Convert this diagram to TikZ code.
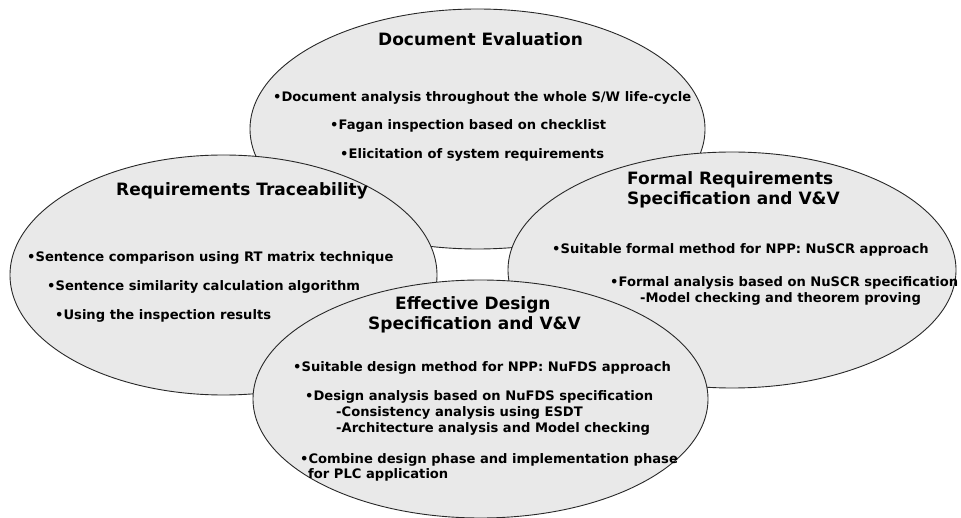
\documentclass[tikz,border=0pt]{standalone}
\usepackage{fontspec}
\setmainfont{DejaVu Sans}
\usetikzlibrary{shapes.geometric}
\definecolor{blobfill}{RGB}{233,233,233}
\definecolor{blobline}{RGB}{40,40,40}
\tikzset{
  blob/.style={ellipse, draw=blobline, fill=blobfill, line width=0.9pt, inner sep=0pt},
  ttl/.style={anchor=base west, inner sep=0pt, font=\fontsize{17}{20}\selectfont\bfseries},
  itm/.style={anchor=base west, inner sep=0pt, font=\fontsize{13.1}{15}\selectfont\bfseries},
}
\begin{document}
\begin{tikzpicture}[x=1pt,y=-1pt]
\useasboundingbox (0,0) rectangle (961,518);
% ellipses
\node[blob, minimum width=455, minimum height=240] (doc) at (477.5,129) {};
\node[blob, minimum width=427, minimum height=240] (req) at (223.5,275) {};
\node[blob, minimum width=448, minimum height=236] (frm) at (732,270) {};
\node[blob, minimum width=455, minimum height=238] (dsg) at (480.5,399) {};
% Document Evaluation
\node[ttl] (docT) at (378,46) {Document Evaluation};
\node[itm] (doc1) at (273,102) {•Document analysis throughout the whole S/W life-cycle};
\node[itm] (doc2) at (330,130) {•Fagan inspection based on checklist};
\node[itm] (doc3) at (340,159) {•Elicitation of system requirements};
% Requirements Traceability
\node[ttl] (reqT) at (116,196) {Requirements Traceability};
\node[itm] (req1) at (27,262) {•Sentence comparison using RT matrix technique};
\node[itm] (req2) at (47,291) {•Sentence similarity calculation algorithm};
\node[itm] (req3) at (55,320) {•Using the inspection results};
% Formal Requirements
\node[ttl] (frmT1) at (627,185) {Formal Requirements};
\node[ttl] (frmT2) at (627,205) {Specification and V\&V};
\node[itm] (frm1) at (552,254) {•Suitable formal method for NPP: NuSCR approach};
\node[itm] (frm2) at (610,287) {•Formal analysis based on NuSCR specification};
\node[itm] (frm3) at (640,303) {-Model checking and theorem proving};
% Effective Design
\node[ttl] (dsgT1) at (395,310) {Effective Design};
\node[ttl] (dsgT2) at (368,330) {Specification and V\&V};
\node[itm] (dsg1) at (293,372) {•Suitable design method for NPP: NuFDS approach};
\node[itm] (dsg2) at (305,400) {•Design analysis based on NuFDS specification};
\node[itm] (dsg3) at (336,417) {-Consistency analysis using ESDT};
\node[itm] (dsg4) at (336,432) {-Architecture analysis and Model checking};
\node[itm] (dsg5) at (300,463) {•Combine design phase and implementation phase};
\node[itm] (dsg6) at (308,478) {for PLC application};
\end{tikzpicture}
\end{document}
